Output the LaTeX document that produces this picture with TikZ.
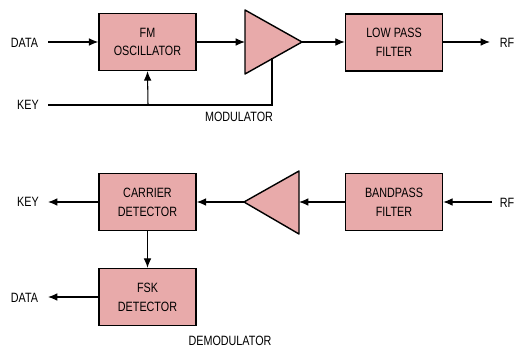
\documentclass[tikz,border=0pt]{standalone}
\usepackage{fontspec}
\setsansfont{Liberation Sans}[FakeStretch=0.8]
\usepackage{tikz}
\usetikzlibrary{arrows.meta}
\definecolor{blockpink}{RGB}{232,170,170}
\tikzset{
  label_text/.style = {font=\sffamily\fontsize{11.5}{16}\selectfont,
    inner sep=0pt, align=center},
  block_node/.style = {label_text, rectangle, draw=black, fill=blockpink,
    line width=1.2pt, minimum width=97\px, minimum height=57\px},% bloc du schema
  amp_shape/.style = {draw=black, fill=blockpink, line width=1.2pt,
    line join=round},% amplificateur
  signal/.style = {line width=0.9pt, -{Latex[length=8pt,width=6.5pt]}},
  wire/.style = {line width=0.9pt}
}
\newlength{\px}
\setlength{\px}{0.03cm}

\begin{document}
\begin{tikzpicture}[x=0.03cm, y=-0.03cm]
  \useasboundingbox (0,0) rectangle (515,348);
  % modulateur
  \node [block_node] (fm_osc) at (147.5,42) {FM\\OSCILLATOR};
  \node [block_node] (low_pass) at (394,42.5) {LOW PASS\\FILTER};
  \draw [amp_shape] (245,10) coordinate (amp1_top) -- (302,42) coordinate (amp1_out)
    -- (245,74) coordinate (amp1_bot) -- cycle;
  \coordinate (amp1_in) at (245,42);
  \coordinate (amp1_key) at (272,58.4);
  \node [label_text] (data_in) at (24.5,43) {DATA};
  \node [label_text] (key_in) at (28,105) {KEY};
  \node [label_text] (rf_out) at (507,43) {RF};
  \node [label_text] (mod_label) at (239,117) {MODULATOR};
  \coordinate (data_start) at (48,42);
  \coordinate (key_start) at (48,105);
  \coordinate (key_tap) at (148,105);
  \coordinate (rf_end) at (490,42);
  \draw [signal] (data_start) -- (fm_osc);
  \draw [signal] (fm_osc) -- (amp1_in);
  \draw [signal] (amp1_out) -- (low_pass.west |- amp1_out);
  \draw [signal] (low_pass.east |- rf_end) -- (rf_end);
  \draw [wire] (key_start) -- (amp1_key |- key_start) -- (amp1_key);
  \draw [signal] (key_tap) -- (fm_osc.south);

  % demodulateur
  \node [block_node] (carrier_det) at (147.5,202) {CARRIER\\DETECTOR};
  \node [block_node] (fsk_det) at (147.5,297) {FSK\\DETECTOR};
  \node [block_node] (band_pass) at (394,202) {BANDPASS\\FILTER};
  \draw [amp_shape] (299,171) coordinate (amp2_top) -- (244,202) coordinate (amp2_out)
    -- (299,234) coordinate (amp2_bot) -- cycle;
  \coordinate (amp2_in) at (299,202);
  \node [label_text] (key_out) at (28,202) {KEY};
  \node [label_text] (data_out) at (24.5,298) {DATA};
  \node [label_text] (rf_in) at (507,203) {RF};
  \node [label_text] (demod_label) at (230,340.5) {DEMODULATOR};
  \coordinate (rf_start) at (492,202);
  \coordinate (key_end) at (48,202);
  \coordinate (data_end) at (48,297);
  \draw [signal] (rf_start) -- (band_pass);
  \draw [signal] (band_pass) -- (amp2_in);
  \draw [signal] (amp2_out) -- (carrier_det);
  \draw [signal] (carrier_det) -- (key_end);
  \draw [signal] (carrier_det) -- (fsk_det);
  \draw [signal] (fsk_det) -- (data_end);
\end{tikzpicture}
\end{document}
